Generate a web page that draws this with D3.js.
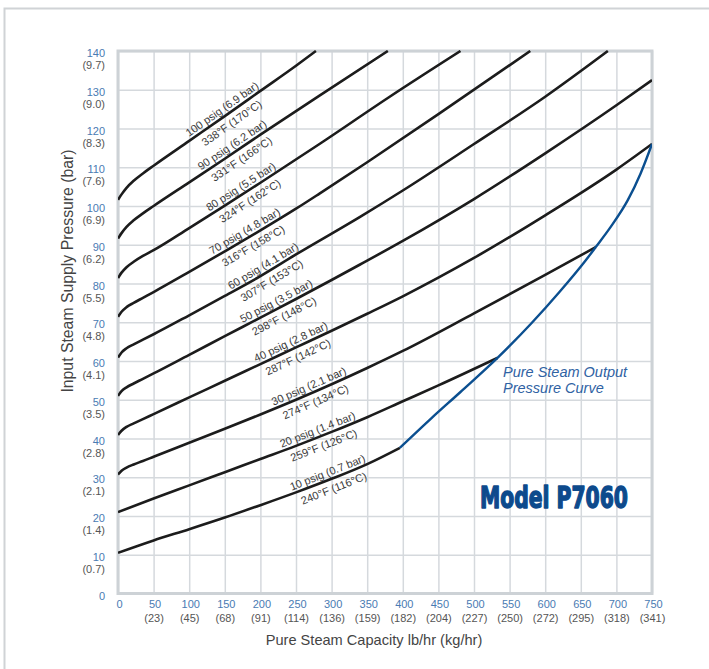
<!DOCTYPE html>
<html>
<head>
<meta charset="utf-8">
<script src="https://cdn.jsdelivr.net/npm/d3@7"></script>
<style>
  html, body { margin: 0; padding: 0; background: #fff; }
  svg { display: block; }
</style>
</head>
<body>
<svg id="chart" width="709" height="669"></svg>
<script>
// Axis ticks: capacity in lb/hr with kg/hr in brackets, pressure in psig with bar in brackets
const capacityTicks = [0, 50, 100, 150, 200, 250, 300, 350, 400, 450, 500, 550, 600, 650, 700, 750];
const capacityKg = ["", "(23)", "(45)", "(68)", "(91)", "(114)", "(136)", "(159)", "(182)", "(204)", "(227)", "(250)", "(272)", "(295)", "(318)", "(341)"];
const pressureTicks = [0, 10, 20, 30, 40, 50, 60, 70, 80, 90, 100, 110, 120, 130, 140];
const pressureBar = ["", "(0.7)", "(1.4)", "(2.1)", "(2.8)", "(3.5)", "(4.1)", "(4.8)", "(5.5)", "(6.2)", "(6.9)", "(7.6)", "(8.3)", "(9.0)", "(9.7)"];

// Supply pressure needed vs. capacity for each pure steam output pressure [lb/hr, psig]
const out10 = [[0,10.5],[50,13.7],[100,16.6],[150,19.6],[200,22.8],[250,26.1],[300,29.6],[350,33.4],[396,37.6]];
const out20 = [[0,21],[50,24.5],[100,27.9],[150,31.3],[200,34.7],[250,38.1],[300,41.7],[350,45.5],[400,49.6],[450,53.7],[533,60.8]];
const out30 = [[0,30.7],[5,31.7],[12,32.5],[22,33.3],[35,34.2],[50,35.3],[100,38.9],[150,42.5],[200,46.2],[250,50],[300,54],[350,58.2],[400,62.6],[500,72.3],[600,82.2],[671,89.4]];
const out40 = [[0,40.9],[5,42],[12,43],[22,43.9],[35,45],[50,46.3],[100,50.6],[150,54.9],[200,59.2],[250,63.5],[300,67.8],[350,72.2],[400,76.7],[500,86.6],[600,97.6],[700,109.4],[750,116]];
const out50 = [[0,51],[5,52.2],[12,53.2],[22,54.2],[35,55.4],[50,56.8],[100,61.6],[150,66.4],[200,71.2],[250,76],[300,80.9],[340,84.9],[400,91],[500,101.8],[600,113.6],[700,126],[750,132.5]];
const out60 = [[0,60.9],[5,62.2],[12,63.3],[22,64.3],[35,65.5],[50,66.9],[100,71.8],[150,76.8],[200,81.9],[250,87.5],[340,97.2],[400,104],[500,116],[600,128.2],[688,140]];
const out70 = [[0,71.4],[5,72.7],[12,73.9],[22,75],[35,76.3],[50,77.8],[100,83],[150,88.3],[200,93.7],[250,99.3],[283,103.2],[350,111.3],[450,123.7],[579,140]];
const out80 = [[0,81.4],[5,82.8],[12,84.2],[22,85.6],[35,87.1],[50,88.6],[100,94.3],[150,100.1],[200,106],[283,116],[380,128],[481,140]];
const out90 = [[0,91.6],[5,93],[12,94.6],[22,96.3],[35,98.1],[50,100],[100,106.1],[150,112.2],[200,118.4],[283,128.5],[379,140]];
const out100 = [[0,101.6],[5,103],[12,104.7],[22,106.5],[35,108.4],[50,110.4],[100,116.8],[150,123.2],[200,129.7],[250,136.2],[278,140]];

// Maximum capacity at each output pressure
const outputCurve = [[396,37.6],[440,45.2],[481,52],[533,60.8],[580,69.6],[620,77.8],[657,86],[671,89.4],[692,94.6],[716,101.5],[734,108.4],[750,116]];

// Curve captions and where along each curve (lb/hr) they sit
const psigLabels = ["10 psig (0.7 bar)", "20 psig (1.4 bar)", "30 psig (2.1 bar)", "40 psig (2.8 bar)", "50 psig (3.5 bar)",
                    "60 psig (4.1 bar)", "70 psig (4.8 bar)", "80 psig (5.5 bar)", "90 psig (6.2 bar)", "100 psig (6.9 bar)"];
const tempLabels = ["240°F (116°C)", "259°F (126°C)", "274°F (134°C)", "287°F (142°C)", "298°F (148°C)",
                    "307°F (153°C)", "316°F (158°C)", "324°F (162°C)", "331°F (166°C)", "338°F (170°C)"];
const labelAt = [298, 284, 272, 247, 227, 209, 183, 178, 166, 152];

const curves = [out10, out20, out30, out40, out50, out60, out70, out80, out90, out100];

const svg = d3.select("#chart");
const font = "'Liberation Sans', Arial, Helvetica, sans-serif";

const x = d3.scaleLinear().domain([0, 750]).range([118, 652]);
const y = d3.scaleLinear().domain([0, 140]).range([593.5, 51]);

// outer panel frame
svg.append("path")
  .attr("d", "M4.5,680 V8.5 H720")
  .attr("fill", "none").attr("stroke", "#d0d3d6").attr("stroke-width", 2);

// grid
const grid = svg.append("g");
grid.append("g")
  .attr("transform", `translate(0,${y(0)})`)
  .call(d3.axisBottom(x).tickValues(capacityTicks).tickSize(-(y(0) - y(140))).tickFormat(""))
  .call(g => g.select(".domain").remove())
  .selectAll("line").attr("stroke", "#d5d9dd").attr("stroke-width", 1.5);
grid.append("g")
  .attr("transform", `translate(${x(0)},0)`)
  .call(d3.axisLeft(y).tickValues(pressureTicks).tickSize(-(x(750) - x(0))).tickFormat(""))
  .call(g => g.select(".domain").remove())
  .selectAll("line").attr("stroke", "#d5d9dd").attr("stroke-width", 1.5);

// plot frame
svg.append("rect")
  .attr("x", x(0)).attr("y", y(140))
  .attr("width", x(750) - x(0)).attr("height", y(0) - y(140))
  .attr("fill", "none").attr("stroke", "#cdd2d6").attr("stroke-width", 3);

// tick labels: lb/hr and psig in blue, metric in grey
function styleTicks(g, color) {
  g.select(".domain").remove();
  g.selectAll("line").remove();
  g.selectAll("text").attr("fill", color).attr("font-family", font).attr("font-size", 11);
}
svg.append("g")
  .attr("transform", `translate(1,${y(0)})`)
  .call(d3.axisBottom(x).tickValues(capacityTicks).tickSize(0).tickPadding(7))
  .call(g => styleTicks(g, "#4a7bb3"));
svg.append("g")
  .attr("transform", `translate(0,${y(0) + 14})`)
  .call(d3.axisBottom(x).tickValues(capacityTicks).tickSize(0).tickPadding(7)
    .tickFormat((d, i) => capacityKg[i]))
  .call(g => styleTicks(g, "#555"));
svg.append("g")
  .attr("transform", `translate(${x(0) - 13},2)`)
  .call(d3.axisLeft(y).tickValues(pressureTicks).tickSize(0).tickPadding(0))
  .call(g => styleTicks(g, "#4a7bb3"));
svg.append("g")
  .attr("transform", `translate(${x(0) - 13},14)`)
  .call(d3.axisLeft(y).tickValues(pressureTicks).tickSize(0).tickPadding(0)
    .tickFormat((d, i) => pressureBar[i]))
  .call(g => styleTicks(g, "#555"));

// axis titles
svg.append("text")
  .attr("x", 374).attr("y", 645)
  .attr("text-anchor", "middle")
  .attr("font-family", font).attr("font-size", 14.6).attr("fill", "#444")
  .text("Pure Steam Capacity lb/hr (kg/hr)");
svg.append("text")
  .attr("transform", "translate(72.5,271) rotate(-90)")
  .attr("text-anchor", "middle")
  .attr("font-family", font).attr("font-size", 15.8).attr("fill", "#444")
  .text("Input Steam Supply Pressure (bar)");

// curves
svg.append("clipPath").attr("id", "plot-clip")
  .append("rect").attr("x", x(0)).attr("y", y(140) - 1)
  .attr("width", x(750) - x(0)).attr("height", y(0) - y(140) + 1);

const line = d3.line().x(d => x(d[0])).y(d => y(d[1])).curve(d3.curveMonotoneX);
const plot = svg.append("g").attr("clip-path", "url(#plot-clip)");

plot.selectAll("path.psig")
  .data(curves)
  .join("path")
  .attr("class", "psig")
  .attr("d", line)
  .attr("fill", "none")
  .attr("stroke", "#1c1c1c")
  .attr("stroke-width", 2.6);

plot.append("path")
  .datum(outputCurve)
  .attr("d", line)
  .attr("fill", "none")
  .attr("stroke", "#0b4f90")
  .attr("stroke-width", 2.4);

// captions along each curve
function valueAt(pts, v) {
  const i = Math.max(1, Math.min(pts.length - 1, d3.bisector(d => d[0]).left(pts, v)));
  const a = pts[i - 1], b = pts[i];
  return a[1] + (b[1] - a[1]) * (v - a[0]) / (b[0] - a[0]);
}
curves.forEach((pts, i) => {
  const v = labelAt[i];
  const px = x(v), py = y(valueAt(pts, v));
  const dx = x(v + 15) - x(v - 15);
  const dy = y(valueAt(pts, v + 15)) - y(valueAt(pts, v - 15));
  const ang = Math.atan2(dy, dx) * 180 / Math.PI;
  const g = svg.append("g").attr("transform", `translate(${px},${py}) rotate(${ang})`);
  g.append("text").attr("y", -3.5).attr("text-anchor", "middle")
    .attr("font-family", font).attr("font-size", 11).attr("fill", "#3a3a3a")
    .text(psigLabels[i]);
  g.append("text").attr("y", 13.5).attr("text-anchor", "middle")
    .attr("font-family", font).attr("font-size", 11).attr("fill", "#3a3a3a")
    .text(tempLabels[i]);
});

// output curve caption
const cap = svg.append("text")
  .attr("font-family", font).attr("font-size", 14.5).attr("font-style", "italic")
  .attr("fill", "#2f62a3");
cap.append("tspan").attr("x", 503).attr("y", 377).text("Pure Steam Output");
cap.append("tspan").attr("x", 503).attr("y", 393).text("Pressure Curve");

// model name
svg.append("text")
  .attr("x", 480).attr("y", 508)
  .attr("font-family", "'DejaVu Sans Condensed', 'Liberation Sans Narrow', Arial, sans-serif")
  .attr("font-weight", "bold").attr("font-size", 30)
  .attr("textLength", 148).attr("lengthAdjust", "spacingAndGlyphs")
  .attr("fill", "#0d4a8c").attr("stroke", "#0d4a8c").attr("stroke-width", 1.4)
  .attr("stroke-linejoin", "round")
  .text("Model P7060");
</script>
</body>
</html>
